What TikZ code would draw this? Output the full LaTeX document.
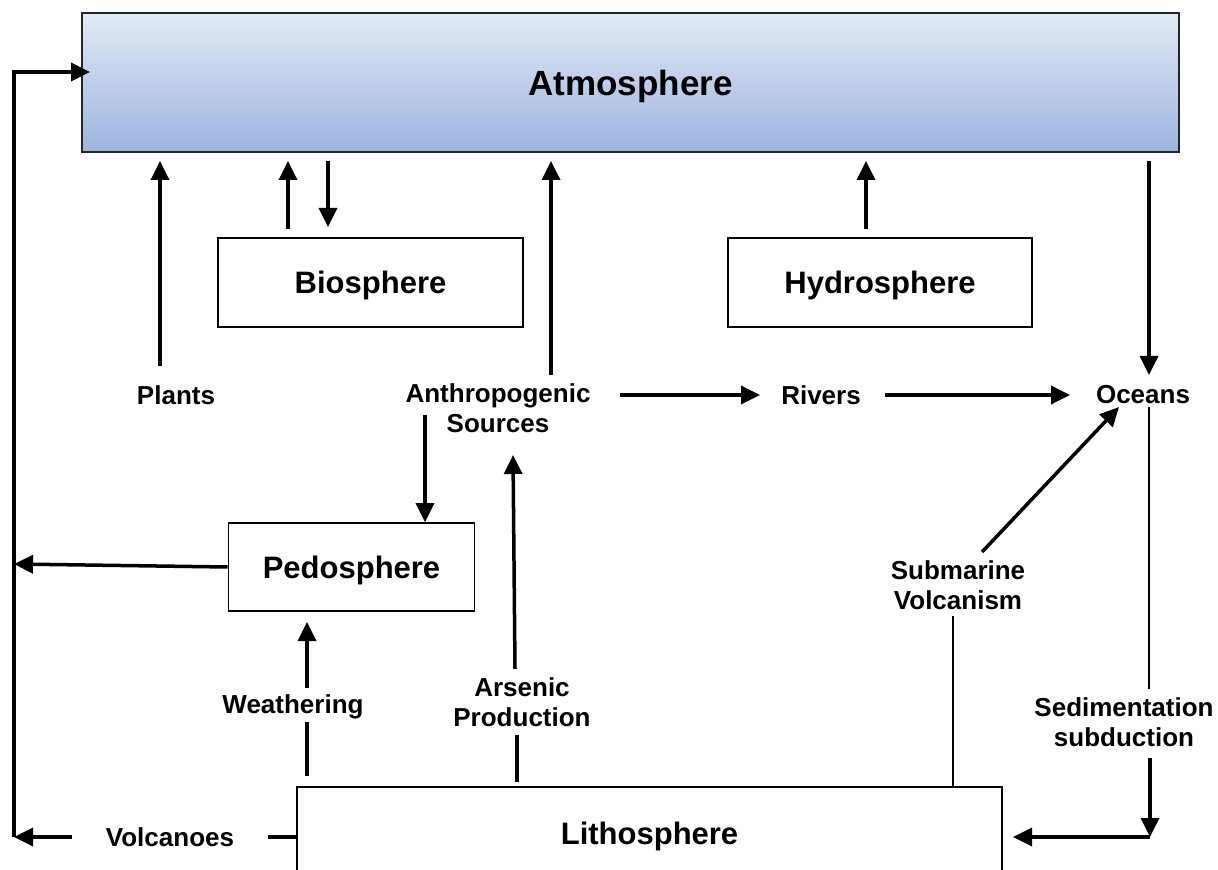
\documentclass[tikz,border=0pt]{standalone}
\usepackage{fontspec}
\setmainfont{Liberation Sans}
\usetikzlibrary{arrows.meta}

\definecolor{atmtop}{HTML}{E2EAF5}
\definecolor{atmbot}{HTML}{9CB4DE}

\tikzset{
	sphere/.style={draw, line width=0.8pt, fill=white, minimum height=44.5pt, inner sep=0pt, text depth=0pt, font=\bfseries\fontsize{15.5}{18}\selectfont},
	lbl/.style={align=center, inner sep=1pt, font=\bfseries\fontsize{13}{15}\selectfont},
	flow/.style={line width=1.75pt, -{Triangle[length=9.5pt,width=9pt]}},
	stub/.style={line width=1.75pt},
	link/.style={line width=1.25pt},
}

\begin{document}
\begin{tikzpicture}[x=0.5pt, y=-0.5pt]
	\useasboundingbox (0,0) rectangle (1218,870);
	\clip (0,0) rectangle (1218,870);

	% spheres
	\node[draw=black!85, line width=1pt, top color=atmtop, bottom color=atmbot, minimum width=548.5pt, minimum height=69.5pt, inner sep=0pt, text depth=0pt, font=\bfseries\fontsize{17.5}{20}\selectfont] (atm) at (630.5,82.5) {Atmosphere};
	\node[sphere, minimum width=152.5pt] (bio) at (370.5,282.5) {Biosphere};
	\node[sphere, minimum width=152pt] (hydro) at (880,282.5) {Hydrosphere};
	\node[sphere, minimum width=123pt, minimum height=44pt] (pedo) at (351.5,567) {Pedosphere};
	\node[sphere, minimum width=352.5pt, minimum height=46.5pt] (litho) at (649.5,833.5) {Lithosphere};

	% labels
	\node[lbl] (plants) at (176,395) {Plants};
	\node[lbl] (anthro) at (498,408) {Anthropogenic\\Sources};
	\node[lbl] (rivers) at (821,395) {Rivers};
	\node[lbl] (oceans) at (1143,395) {Oceans};
	\node[lbl] (weath) at (293,707) {Weathering};
	\node[lbl] (arsenic) at (522,702) {Arsenic\\Production};
	\node[lbl] (submar) at (958,585) {Submarine\\Volcanism};
	\node[lbl] (sediment) at (1124,722) {Sedimentation\\subduction};
	\node[lbl] (volc) at (170,837) {Volcanoes};

	% free ends
	\coordinate (loopT) at (14,72);
	\coordinate (loopB) at (14,837);
	\coordinate (loopP) at (14,564);
	\coordinate (volcL) at (72,837);
	\coordinate (volcR) at (268,837);
	\coordinate (plantsUp) at (160,366);
	\coordinate (bioUp) at (288,229);
	\coordinate (bioDown) at (328,227);
	\coordinate (anthroUp) at (551,375);
	\coordinate (hydroUp) at (866,229);
	\coordinate (oceanIn) at (1149,375);
	\coordinate (oceanOut) at (1149,407);
	\coordinate (sedTop) at (1149,689);
	\coordinate (sedBot) at (1150,758);
	\coordinate (sedCorner) at (1150,837);
	\coordinate (sedTip) at (1013,837);
	\coordinate (submarTop) at (982,552);
	\coordinate (submarTip) at (1119,407);
	\coordinate (submarBot) at (953,616);
	\coordinate (arsTop) at (515,669);
	\coordinate (arsTip) at (513,455);
	\coordinate (arsBot) at (517,735);
	\coordinate (weathTop) at (307,688);
	\coordinate (weathTip) at (307,622);
	\coordinate (weathBot) at (307,722);
	\coordinate (anthroR) at (620,395);
	\coordinate (riversL) at (760,395);
	\coordinate (riversR) at (885,395);
	\coordinate (oceansL) at (1070,395);
	\coordinate (anthroDown) at (425,415);

	% loop back to the atmosphere
	\draw[flow] (loopB) -- (loopT) -- ([xshift=4.5pt]loopT -| atm.west);
	\draw[stub] (litho.west |- volcR) -- (volcR);
	\draw[flow] (volcL) -- (loopB);
	\draw[flow] (pedo.west) -- (loopP);

	% up to and down from the atmosphere
	\draw[flow, shorten >=4pt] (plantsUp) -- (plantsUp |- atm.south);
	\draw[flow, shorten >=4pt] (bioUp) -- (bioUp |- atm.south);
	\draw[flow, shorten <=4pt] (bioDown |- atm.south) -- (bioDown);
	\draw[flow, shorten >=4pt] (anthroUp) -- (anthroUp |- atm.south);
	\draw[flow, shorten >=4pt] (hydroUp) -- (hydroUp |- atm.south);
	\draw[flow, shorten <=4pt] (oceanIn |- atm.south) -- (oceanIn);

	% middle row
	\draw[flow] (anthroR) -- (riversL);
	\draw[flow] (riversR) -- (oceansL);
	\draw[flow] (anthroDown) -- (anthroDown |- pedo.north);

	% oceans to lithosphere
	\draw[link] (oceanOut) -- (sedTop);
	\draw[flow] (sedBot) -- (sedCorner);
	\draw[flow] (sedCorner) -- (sedTip);

	% from the lithosphere
	\draw[link] (submarBot |- litho.north) -- (submarBot);
	\draw[flow] (submarTop) -- (submarTip);
	\draw[stub, shorten <=2pt] (arsBot |- litho.north) -- (arsBot);
	\draw[flow] (arsTop) -- (arsTip);
	\draw[stub, shorten <=5pt] (weathBot |- litho.north) -- (weathBot);
	\draw[flow] (weathTop) -- (weathTip);

\end{tikzpicture}
\end{document}
